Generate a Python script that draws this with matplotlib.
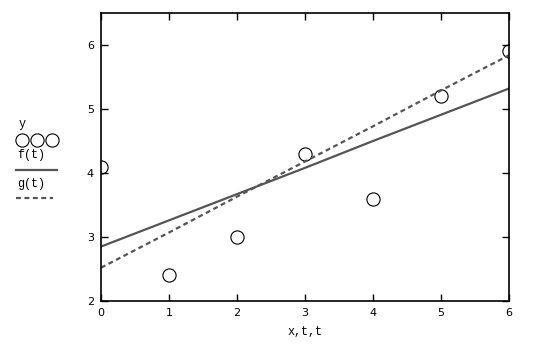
import matplotlib
matplotlib.use('Agg')
import matplotlib.pyplot as plt
from matplotlib.lines import Line2D

# data
x = [0, 1, 2, 3, 4, 5, 6]
y = [4.1, 2.4, 3.0, 4.3, 3.6, 5.2, 5.9]
t = [0, 1, 2, 3, 4, 5, 6]
f_t = [2.85, 3.26, 3.67, 4.08, 4.50, 4.91, 5.32]
g_t = [2.52, 3.07, 3.63, 4.18, 4.73, 5.29, 5.84]
xticks = [0, 1, 2, 3, 4, 5, 6]
yticks = [2, 3, 4, 5, 6]

line_col = '#555555'
mono = 'Liberation Mono'

fig = plt.figure(figsize=(5.5, 3.5), dpi=100)
ax = fig.add_axes([101/550, 1-301/350, 408/550, 288/350])

ax.plot(x, y, linestyle='none', marker='o', markersize=9.5,
        markerfacecolor='none', markeredgecolor='black', markeredgewidth=0.8)
ax.plot(t, f_t, color=line_col, linewidth=1.6)
ax.plot(t, g_t, color=line_col, linewidth=1.6, linestyle=(0, (2.2, 1.6)))

ax.set_xlim(0, 6)
ax.set_ylim(2, 6.5)
ax.set_xticks(xticks)
ax.set_yticks(yticks)
ax.tick_params(direction='in', length=5, width=1, top=True, right=True,
               labelsize=8, pad=5)
for s in ax.spines.values():
    s.set_linewidth(1.2)
ax.set_xlabel('x,t,t', fontfamily=mono, fontsize=8.5, labelpad=6)

# legend drawn by hand on the left
fig.text(19/550, 1-124/350, 'y', fontfamily=mono, fontsize=8.5, va='center')
fig.add_artist(Line2D([22/550, 37/550, 52/550], [1-140/350]*3, linestyle='none',
                      marker='o', markersize=9.5, markerfacecolor='none',
                      markeredgecolor='black', markeredgewidth=0.8))
fig.text(17/550, 1-155/350, 'f(t)', fontfamily=mono, fontsize=8.5, va='center')
fig.add_artist(Line2D([16/550, 57/550], [1-170/350]*2, color=line_col, linewidth=1.6))
fig.text(17/550, 1-184/350, 'g(t)', fontfamily=mono, fontsize=8.5, va='center')
fig.add_artist(Line2D([16/550, 53/550], [1-198/350]*2, color=line_col,
                      linewidth=1.6, linestyle=(0, (2.2, 1.6))))

fig.savefig('out.png', dpi=100)
